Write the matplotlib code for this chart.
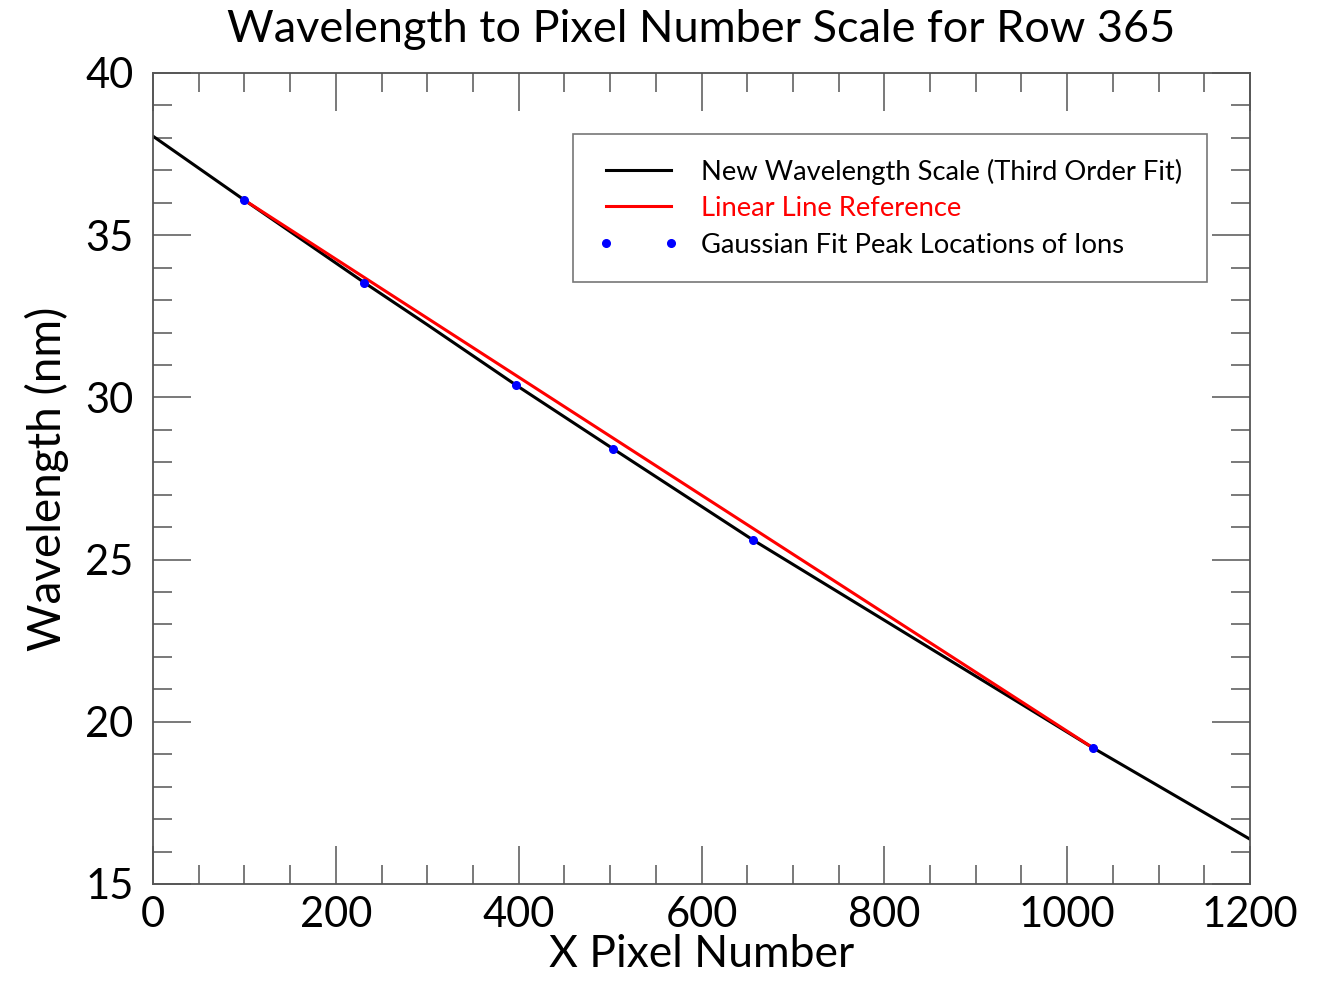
import matplotlib
matplotlib.use("Agg")
import matplotlib.pyplot as plt
from matplotlib.ticker import MultipleLocator

# Gaussian fit peak locations of the ions (pixel, nm)
peak_px = [100, 231, 397, 503, 656, 1028]
peak_nm = [36.08, 33.54, 30.38, 28.42, 25.61, 19.20]

# third order fit, sampled across the row
fit_px = [0, 100, 231, 300, 397, 503, 656, 800, 1028, 1200]
fit_nm = [38.05, 36.08, 33.54, 32.24, 30.38, 28.42, 25.61, 23.13, 19.20, 16.38]

# straight line between the outer peaks
lin_px = [peak_px[0], peak_px[-1]]
lin_nm = [peak_nm[0], peak_nm[-1]]

row = 365

plt.rcParams['font.family'] = ['Lato', 'DejaVu Sans']
grey = '#555555'

fig = plt.figure(figsize=(13.24, 9.81), dpi=100)
ax = fig.add_axes([0.1156, 0.0989, 0.8285, 0.8267])

ax.plot(fit_px, fit_nm, color='black', lw=2.2, label='New Wavelength Scale (Third Order Fit)', zorder=2)
ax.plot(lin_px, lin_nm, color='red', lw=2.2, label='Linear Line Reference', zorder=3)
ax.plot(peak_px, peak_nm, ls='none', marker='o', ms=5.5, color='blue',
        label='Gaussian Fit Peak Locations of Ions', zorder=4)

ax.set_xlim(0, 1200)
ax.set_ylim(15, 40)
ax.xaxis.set_major_locator(MultipleLocator(200))
ax.xaxis.set_minor_locator(MultipleLocator(50))
ax.yaxis.set_major_locator(MultipleLocator(5))
ax.yaxis.set_minor_locator(MultipleLocator(1))

ax.tick_params(which='both', direction='in', top=True, right=True, color=grey, width=1.1,
               labelsize=30)
ax.tick_params(axis='x', which='both', pad=9)
ax.tick_params(axis='y', which='both', pad=14)
ax.tick_params(which='major', length=27.5)
ax.tick_params(which='minor', length=13.7)
for s in ax.spines.values():
    s.set_color(grey)
    s.set_linewidth(1.3)

ax.set_title('Wavelength to Pixel Number Scale for Row %d' % row, fontsize=32.5, pad=22)
ax.set_xlabel('X Pixel Number', fontsize=32, labelpad=0)
ax.set_ylabel('Wavelength (nm)', fontsize=33, labelpad=12)

leg = ax.legend(loc='upper right', bbox_to_anchor=(0.961, 0.925), fontsize=19.7,
                numpoints=2, handlelength=3.0, handletextpad=0.8, fancybox=False,
                borderpad=0.9, labelspacing=0.42, borderaxespad=0)
leg.get_frame().set_edgecolor(grey)
leg.get_frame().set_linewidth(1.2)
leg.get_texts()[1].set_color('red')

fig.savefig('out.png', dpi=100)
